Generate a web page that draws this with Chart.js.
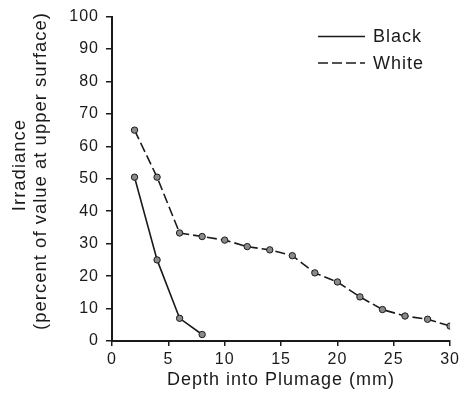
<!DOCTYPE html>
<html><head><meta charset="utf-8">
<script src="https://cdn.jsdelivr.net/npm/chart.js@4/dist/chart.umd.min.js"></script>
<style>html,body{margin:0;padding:0;background:#fff}#w{width:463px;height:400px}</style>
</head><body><div id="w"><canvas id="c"></canvas></div>
<script>
const blackDepth = [2, 4, 6, 8];
const blackValues = [50.5, 25, 7, 2];
const whiteDepth = [2, 4, 6, 8, 10, 12, 14, 16, 18, 20, 22, 24, 26, 28, 30];
const whiteValues = [65, 50.5, 33.3, 32.2, 31.1, 29.1, 28.1, 26.3, 21, 18.2, 13.6, 9.7, 7.7, 6.7, 4.6];
const seriesNames = ['Black', 'White'];
const xTitle = 'Depth into Plumage (mm)';
const yTitle = ['Irradiance', '(percent of value at upper surface)'];

const FONT = 'Liberation Sans, Arial, sans-serif';
const ink = '#1a1a1a';

const spacingPlugin = {
  id: 'spacing',
  beforeDraw(chart) { chart.ctx.letterSpacing = '1px'; }
};

const legendPlugin = {
  id: 'inLegend',
  afterDraw(chart) {
    const ctx = chart.ctx;
    ctx.save();
    chart.data.datasets.forEach((ds, i) => {
      const y = 36.5 + i * 26.5;
      ctx.beginPath();
      ctx.strokeStyle = ink;
      ctx.lineWidth = 1.5;
      ctx.setLineDash(ds.borderDash || []);
      ctx.moveTo(318, y);
      ctx.lineTo(365, y);
      ctx.stroke();
      ctx.setLineDash([]);
      ctx.fillStyle = ink;
      ctx.font = '18px ' + FONT;
      ctx.letterSpacing = '1px';
      ctx.textBaseline = 'middle';
      ctx.fillText(ds.label, 373, y + 1);
    });
    ctx.font = '18.5px ' + FONT;
    ctx.letterSpacing = '1px';
    ctx.textAlign = 'center';
    ctx.textBaseline = 'middle';
    ctx.fillStyle = ink;
    const centers = [[20, 165], [41, 171]];
    yTitle.forEach((t, i) => {
      ctx.save();
      ctx.translate(centers[i][0], centers[i][1]);
      ctx.rotate(-Math.PI / 2);
      ctx.fillText(t, 0, 0);
      ctx.restore();
    });
    ctx.restore();
  }
};

const toPts = (xs, ys) => xs.map((x, i) => ({x, y: ys[i]}));

new Chart(document.getElementById('c'), {
  type: 'line',
  data: {
    datasets: [
      {label: seriesNames[0], data: toPts(blackDepth, blackValues), borderColor: ink, borderWidth: 1.6,
       pointRadius: 3.2, pointBackgroundColor: '#8a8a8a', pointBorderColor: ink, pointBorderWidth: 1, tension: 0},
      {label: seriesNames[1], data: toPts(whiteDepth, whiteValues), borderColor: ink, borderWidth: 1.6,
       borderDash: [10, 4], pointRadius: 3.2, pointBackgroundColor: '#8a8a8a', pointBorderColor: ink, pointBorderWidth: 1, tension: 0}
    ]
  },
  options: {
    responsive: true, maintainAspectRatio: false, animation: false,
    layout: {padding: {top: 15, right: 11, left: 0, bottom: 0}},
    plugins: {legend: {display: false}, tooltip: {enabled: false}},
    scales: {
      x: {
        type: 'linear', min: 0, max: 30,
        afterFit(s) { s.height = 59; },
        ticks: {stepSize: 5, color: ink, font: {family: FONT, size: 16}, padding: 4},
        grid: {drawOnChartArea: false, tickLength: 5, color: ink, lineWidth: 1.5},
        border: {display: true, color: ink, width: 2},
        title: {display: true, text: xTitle, color: ink, font: {family: FONT, size: 18}, padding: {top: 0, bottom: 9}}
      },
      y: {
        min: 0, max: 100,
        afterFit(s) { s.width = 112; },
        ticks: {stepSize: 10, color: ink, font: {family: FONT, size: 16}, padding: 7},
        grid: {drawOnChartArea: false, tickLength: 6, color: ink, lineWidth: 1.5},
        border: {display: true, color: ink, width: 2},
        title: {display: false}
      }
    }
  },
  plugins: [spacingPlugin, legendPlugin]
});
</script></body></html>
